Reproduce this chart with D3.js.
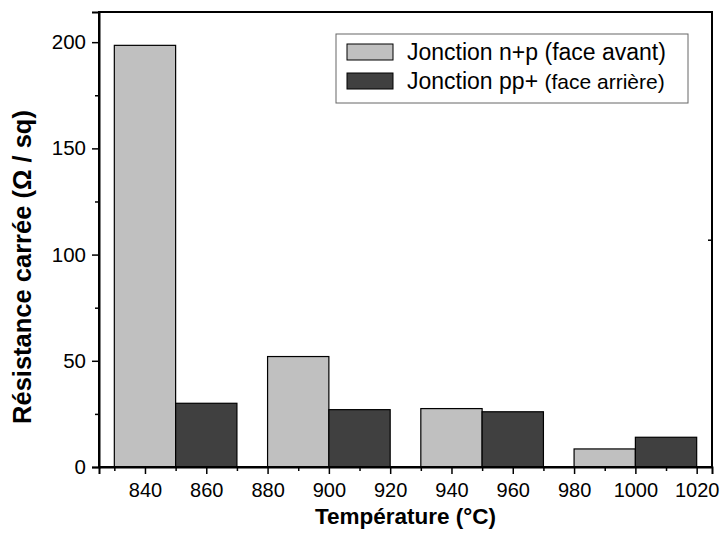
<!DOCTYPE html>
<html>
<head>
<meta charset="utf-8">
<script src="https://cdn.jsdelivr.net/npm/d3@7"></script>
<style>
  body { margin: 0; background: #fff; }
  svg { font-family: "Liberation Sans", Arial, sans-serif; }
</style>
</head>
<body>
<div id="chart"></div>
<script>
// Données
const temperatures = [850, 900, 950, 1000];
const frontValues = [198.5, 52, 27.5, 8.5];   // Jonction n+p (face avant)
const backValues = [30, 27, 26, 14];          // Jonction pp+ (face arrière)
const xTicks = [840, 860, 880, 900, 920, 940, 960, 980, 1000, 1020];
const yTicks = [0, 50, 100, 150, 200];

const width = 721;
const height = 544;
const margin = { top: 12, right: 9, bottom: 77, left: 99 };
const fontFam = "Liberation Sans, Arial, sans-serif";

const svg = d3.select("#chart")
    .append("svg")
    .attr("width", width)
    .attr("height", height);

const x = d3.scaleLinear()
    .domain([825, 1025])
    .range([margin.left, width - margin.right]);

const y = d3.scaleLinear()
    .domain([0, 214.2])
    .range([height - margin.bottom, margin.top]);

const barWidth = 20; // en °C

const data = temperatures.map((t, i) => ({ t, front: frontValues[i], back: backValues[i] }));

// Barres face avant
svg.selectAll(".front")
    .data(data)
    .enter()
    .append("rect")
    .attr("x", d => x(d.t - barWidth))
    .attr("y", d => y(d.front))
    .attr("width", d => x(d.t) - x(d.t - barWidth))
    .attr("height", d => y(0) - y(d.front))
    .attr("fill", "#c0c0c0")
    .attr("stroke", "#000")
    .attr("stroke-width", 1.2);

// Barres face arrière
svg.selectAll(".back")
    .data(data)
    .enter()
    .append("rect")
    .attr("x", d => x(d.t))
    .attr("y", d => y(d.back))
    .attr("width", d => x(d.t + barWidth) - x(d.t))
    .attr("height", d => y(0) - y(d.back))
    .attr("fill", "#404040")
    .attr("stroke", "#000")
    .attr("stroke-width", 1.2);

// Cadre
svg.append("rect")
    .attr("x", margin.left)
    .attr("y", margin.top)
    .attr("width", width - margin.left - margin.right)
    .attr("height", height - margin.top - margin.bottom)
    .attr("fill", "none")
    .attr("stroke", "#000")
    .attr("stroke-width", 2);

// Axe X (graduations principales + secondaires)
const xMinor = d3.range(830, 1025, 10).filter(v => !xTicks.includes(v));
svg.append("g")
    .attr("transform", `translate(0,${y(0)})`)
    .call(d3.axisBottom(x).tickValues(xMinor).tickSize(4).tickFormat(""))
    .call(g => g.select(".domain").remove())
    .call(g => g.selectAll("line").attr("stroke-width", 1.5));

svg.append("g")
    .attr("transform", `translate(0,${y(0)})`)
    .call(d3.axisBottom(x).tickValues(xTicks).tickSize(7).tickPadding(9).tickFormat(d3.format("d")))
    .call(g => g.select(".domain").attr("stroke-width", 2))
    .call(g => g.selectAll("line").attr("stroke-width", 1.5))
    .call(g => g.selectAll("text").attr("font-size", "20px").attr("fill", "#000")
        .attr("font-family", fontFam));

// Axe Y
const yMinor = [25, 75, 125, 175];
svg.append("g")
    .attr("transform", `translate(${margin.left},0)`)
    .call(d3.axisLeft(y).tickValues(yMinor).tickSize(4).tickFormat(""))
    .call(g => g.select(".domain").remove())
    .call(g => g.selectAll("line").attr("stroke-width", 1.5));

svg.append("g")
    .attr("transform", `translate(${margin.left},0)`)
    .call(d3.axisLeft(y).tickValues(yTicks).tickSize(7).tickPadding(6))
    .call(g => g.select(".domain").attr("stroke-width", 2))
    .call(g => g.selectAll("line").attr("stroke-width", 1.5))
    .call(g => g.selectAll("text").attr("font-size", "20.5px").attr("fill", "#000")
        .attr("font-family", fontFam));

// petite graduation isolée sur l'axe droit
svg.append("g")
    .attr("transform", `translate(${width - margin.right},0)`)
    .call(d3.axisLeft(y).tickValues([107]).tickSize(4).tickFormat(""))
    .call(g => g.select(".domain").remove())
    .call(g => g.selectAll("line").attr("stroke-width", 1.5));

// Titres des axes
svg.append("text")
    .attr("x", (margin.left + width - margin.right) / 2)
    .attr("y", 524)
    .attr("text-anchor", "middle")
    .attr("font-size", "22.5px")
    .attr("font-weight", "bold")
    .text("Température (°C)");

svg.append("text")
    .attr("transform", `translate(31,267) rotate(-90)`)
    .attr("text-anchor", "middle")
    .attr("font-size", "25.5px")
    .attr("font-weight", "bold")
    .text("Résistance carrée (Ω / sq)");

// Légende
const legend = svg.append("g");
legend.append("rect")
    .attr("x", 336)
    .attr("y", 34)
    .attr("width", 352)
    .attr("height", 69)
    .attr("fill", "#fff")
    .attr("stroke", "#666")
    .attr("stroke-width", 1);

const legendItems = [
    { color: "#c0c0c0", main: "Jonction n+p ", small: "(face avant)", smallSize: "23px" },
    { color: "#404040", main: "Jonction pp+ ", small: "(face arrière)", smallSize: "21px" }
];

legendItems.forEach((d, i) => {
    const cy = 52 + i * 29;
    legend.append("rect")
        .attr("x", 347)
        .attr("y", cy - 8)
        .attr("width", 46)
        .attr("height", 16)
        .attr("fill", d.color)
        .attr("stroke", "#000")
        .attr("stroke-width", 1);
    const t = legend.append("text")
        .attr("x", 407)
        .attr("y", cy)
        .attr("dy", "0.36em")
        .attr("font-size", "23px");
    t.append("tspan").text(d.main);
    t.append("tspan").attr("font-size", d.smallSize).text(d.small);
});
</script>
</body>
</html>
